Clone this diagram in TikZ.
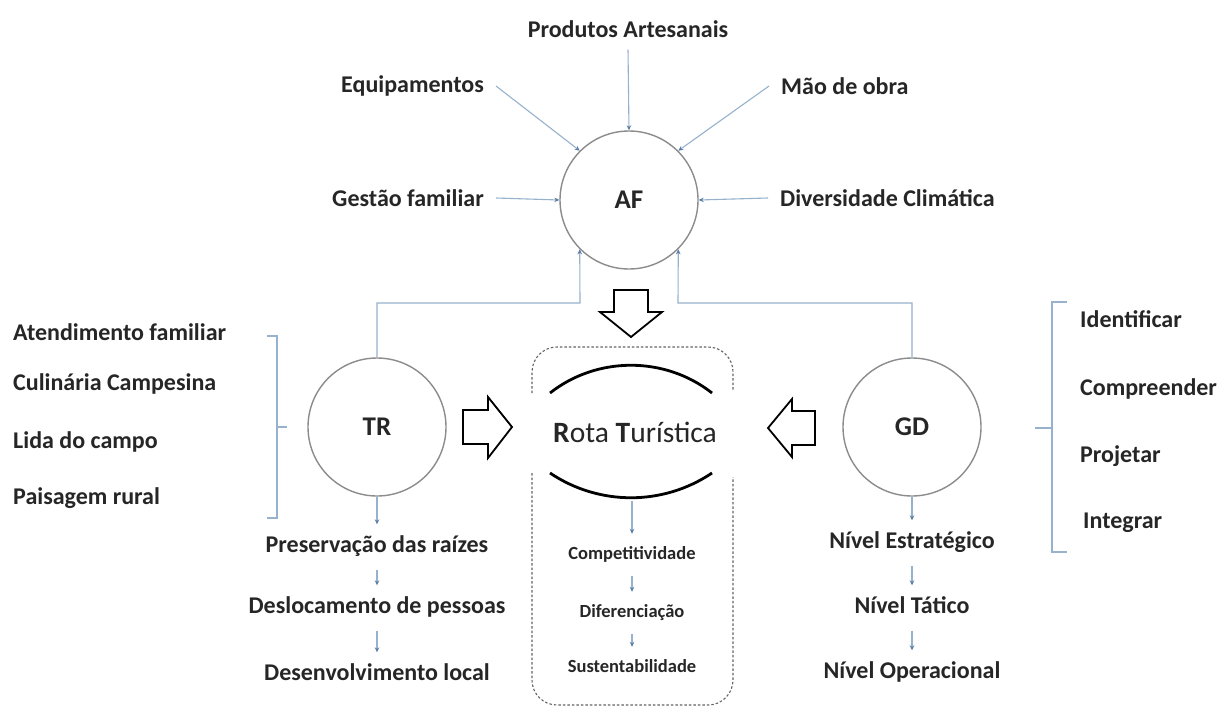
\documentclass[tikz,border=0pt]{standalone}
\usepackage{fontspec}
\setmainfont{Carlito}
\usetikzlibrary{arrows.meta}

\definecolor{linkblue}{RGB}{150,178,205}
\definecolor{tipblue}{RGB}{90,125,165}
\definecolor{ink}{RGB}{38,38,38}
\definecolor{ringgray}{RGB}{140,140,140}
\definecolor{boxgray}{RGB}{100,100,100}

\tikzset{
  lbl/.style={font=\fontsize{24}{28}\selectfont\bfseries, text=ink, inner sep=12pt},
  item/.style={font=\fontsize{24}{28}\selectfont\bfseries, text=ink, inner sep=0pt,
    text height=16pt, text depth=5pt, anchor=west},
  chain/.style={font=\fontsize{24}{28}\selectfont\bfseries, text=ink,
    text height=16pt, text depth=5pt, inner xsep=2pt, inner ysep=12pt},
  smallchain/.style={font=\fontsize{18.5}{22}\selectfont\bfseries, text=ink,
    text height=12.5pt, text depth=3.5pt, inner xsep=2pt, inner ysep=13pt},
  ring/.style={circle, draw=ringgray, line width=1.4pt, minimum size=138pt,
    inner sep=0pt, font=\fontsize{27}{32}\selectfont\bfseries, text=ink},
  link/.style={draw=linkblue, line width=1.1pt,
    -{Stealth[length=5pt,width=4.5pt,fill=tipblue,color=tipblue]}},
  hollow/.style={draw=black, line width=1.8pt, fill=white, line join=miter},
  bracket/.style={draw=linkblue, line width=1.2pt},
  dashbox/.style={draw=boxgray, line width=1.1pt, dash pattern=on 2.5pt off 2pt,
    rounded corners=25pt},
  arcline/.style={draw=black, line width=2.8pt},
}

\begin{document}
\begin{tikzpicture}[x=1pt,y=-1pt]
\fill[white] (0,0) rectangle (1218,707);
\useasboundingbox (0,0) rectangle (1218,707);

% the three hubs
\node[ring] (AF) at (629,200) {AF};
\node[ring] (TR) at (377,427) {TR};
\node[ring] (GD) at (912,427) {GD};

% inputs of AF
\node[lbl] (prod) at (628,29) {Produtos Artesanais};
\node[lbl, anchor=east] (equip) at (496,86) {Equipamentos};
\node[lbl, anchor=west] (mao) at (769,86) {Mão de obra};
\node[lbl, anchor=east] (gest) at (496,198) {Gestão familiar};
\node[lbl, anchor=west] (div) at (768,198) {Diversidade Climática};

\draw[link] (prod.south) -- (AF.north);
\draw[link] (equip.east) -- (AF.135);
\draw[link] (mao.west) -- (AF.45);
\draw[link] (gest.east) -- (AF.west);
\draw[link] (div.west) -- (AF.east);

% feedback from TR and GD into AF
\coordinate (trbend) at (580,303);
\coordinate (gdbend) at (678,303);
\draw[link] (TR.north) |- (trbend) -- (AF.-135);
\draw[link] (GD.north) |- (gdbend) -- (AF.-45);

% block arrows towards the route
\draw[hollow] (614,290) -- (648,290) -- (648,312) -- (662,312) -- (631,337)
  -- (600,312) -- (614,312) -- cycle;
\draw[hollow] (463,410) -- (488,410) -- (488,397) -- (512,427) -- (488,458)
  -- (488,444) -- (463,444) -- cycle;
\draw[hollow] (815,411) -- (792,411) -- (792,399) -- (768,428) -- (792,457)
  -- (792,445) -- (815,445) -- cycle;

% route frame
\draw[dashbox] (532,393) |- (733,347) -- (733,390);
\draw[dashbox] (532,473) |- (733,705) -- (733,477);
\draw[arcline] (550,393) .. controls (597,356) and (665,356) .. (712,393);
\draw[arcline] (550,473) .. controls (599,506) and (663,506) .. (712,473);
\node[font=\fontsize{29.5}{34}\selectfont, text=ink] (rota) at (635,432)
  {{\bfseries R}ota {\bfseries T}urística};

\coordinate (arcb) at (632,501);
\node[smallchain] (comp) at (632,555) {Competitividade};
\node[smallchain] (dif) at (632,613) {Diferenciação};
\node[smallchain] (sust) at (632,668) {Sustentabilidade};
\draw[link] (arcb) -- (comp.north);
\draw[link] (comp.south) -- (dif.north);
\draw[link] (dif.south) -- (sust.north);

% TR outcomes
\node[chain] (pres) at (377,547) {Preservação das raízes};
\node[chain] (desl) at (377,608) {Deslocamento de pessoas};
\node[chain] (dev) at (377,675) {Desenvolvimento local};
\draw[link] (TR.south) -- (pres.north);
\draw[link] (pres.south) -- (desl.north);
\draw[link] (desl.south) -- (dev.north);

% GD levels
\node[chain] (estr) at (912,543) {Nível Estratégico};
\node[chain] (tat) at (912,608) {Nível Tático};
\node[chain] (oper) at (912,673) {Nível Operacional};
\draw[link] (GD.south) -- (estr.north);
\draw[link] (estr.south) -- (tat.north);
\draw[link] (tat.south) -- (oper.north);

% TR aspects
\node[item] (aten) at (13,335) {Atendimento familiar};
\node[item] (cul) at (13,385) {Culinária Campesina};
\node[item] (lida) at (13,443) {Lida do campo};
\node[item] (pais) at (13,499) {Paisagem rural};
\draw[bracket] (267,336) -- (277,336) -- (277,518) -- (267,518);
\draw[bracket] (277,427) -- (287,427);

% GD steps
\node[item] (ident) at (1080,322) {Identificar};
\node[item] (compr) at (1080,390) {Compreender};
\node[item] (proj) at (1080,457) {Projetar};
\node[item] (integ) at (1083,523) {Integrar};
\draw[bracket] (1067,302) -- (1052,302) -- (1052,552) -- (1067,552);
\draw[bracket] (1035,428) -- (1052,428);
\end{tikzpicture}
\end{document}
